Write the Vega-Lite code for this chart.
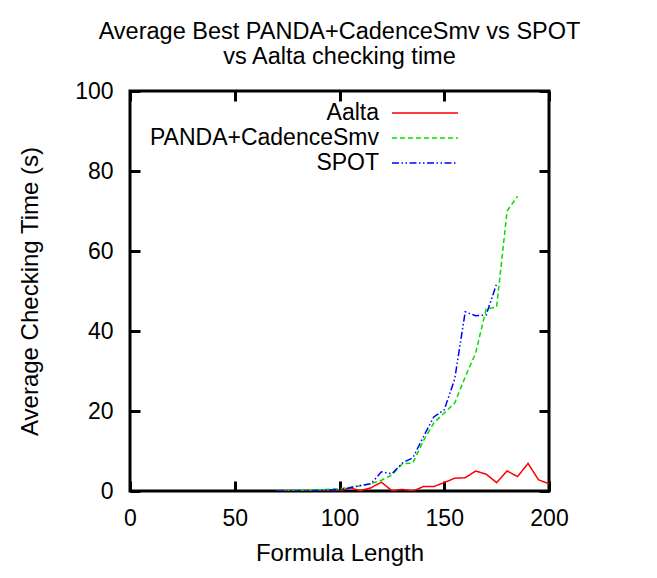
{
  "$schema": "https://vega.github.io/schema/vega-lite/v6.json",
  "autosize": {"type": "none"},
  "width": 419,
  "height": 400,
  "padding": {"left": 130, "top": 91, "right": 108, "bottom": 87},
  "background": "white",
  "title": {
    "text": ["Average Best PANDA+CadenceSmv vs SPOT", "vs Aalta checking time"],
    "font": "Liberation Sans",
    "fontSize": 23.5,
    "fontWeight": "normal",
    "lineHeight": 25,
    "anchor": "middle",
    "offset": 12,
    "color": "black"
  },
  "data": {
    "values": [
      {"len": 70, "time": 0, "tool": "Aalta"},
      {"len": 75, "time": 0, "tool": "Aalta"},
      {"len": 80, "time": 0, "tool": "Aalta"},
      {"len": 85, "time": 0, "tool": "Aalta"},
      {"len": 90, "time": 0, "tool": "Aalta"},
      {"len": 95, "time": 0, "tool": "Aalta"},
      {"len": 100, "time": 0, "tool": "Aalta"},
      {"len": 105, "time": 0.8, "tool": "Aalta"},
      {"len": 110, "time": 0.1, "tool": "Aalta"},
      {"len": 115, "time": 0.8, "tool": "Aalta"},
      {"len": 120, "time": 2.2, "tool": "Aalta"},
      {"len": 125, "time": 0.05, "tool": "Aalta"},
      {"len": 130, "time": 0.4, "tool": "Aalta"},
      {"len": 135, "time": 0, "tool": "Aalta"},
      {"len": 140, "time": 1.1, "tool": "Aalta"},
      {"len": 145, "time": 1.1, "tool": "Aalta"},
      {"len": 150, "time": 2.1, "tool": "Aalta"},
      {"len": 155, "time": 3.2, "tool": "Aalta"},
      {"len": 160, "time": 3.3, "tool": "Aalta"},
      {"len": 165, "time": 5.0, "tool": "Aalta"},
      {"len": 170, "time": 4.2, "tool": "Aalta"},
      {"len": 175, "time": 2.1, "tool": "Aalta"},
      {"len": 180, "time": 5.0, "tool": "Aalta"},
      {"len": 185, "time": 3.6, "tool": "Aalta"},
      {"len": 190, "time": 6.9, "tool": "Aalta"},
      {"len": 195, "time": 2.8, "tool": "Aalta"},
      {"len": 200, "time": 1.8, "tool": "Aalta"},
      {"len": 70, "time": 0, "tool": "PANDA+CadenceSmv"},
      {"len": 75, "time": 0.05, "tool": "PANDA+CadenceSmv"},
      {"len": 80, "time": 0.1, "tool": "PANDA+CadenceSmv"},
      {"len": 85, "time": 0.2, "tool": "PANDA+CadenceSmv"},
      {"len": 90, "time": 0.3, "tool": "PANDA+CadenceSmv"},
      {"len": 95, "time": 0.45, "tool": "PANDA+CadenceSmv"},
      {"len": 100, "time": 0.6, "tool": "PANDA+CadenceSmv"},
      {"len": 105, "time": 0.9, "tool": "PANDA+CadenceSmv"},
      {"len": 110, "time": 1.3, "tool": "PANDA+CadenceSmv"},
      {"len": 115, "time": 1.8, "tool": "PANDA+CadenceSmv"},
      {"len": 120, "time": 2.7, "tool": "PANDA+CadenceSmv"},
      {"len": 125, "time": 4.0, "tool": "PANDA+CadenceSmv"},
      {"len": 130, "time": 6.8, "tool": "PANDA+CadenceSmv"},
      {"len": 135, "time": 7.0, "tool": "PANDA+CadenceSmv"},
      {"len": 140, "time": 12.5, "tool": "PANDA+CadenceSmv"},
      {"len": 145, "time": 17.0, "tool": "PANDA+CadenceSmv"},
      {"len": 150, "time": 19.5, "tool": "PANDA+CadenceSmv"},
      {"len": 155, "time": 22.0, "tool": "PANDA+CadenceSmv"},
      {"len": 160, "time": 28.5, "tool": "PANDA+CadenceSmv"},
      {"len": 165, "time": 34.5, "tool": "PANDA+CadenceSmv"},
      {"len": 170, "time": 45.5, "tool": "PANDA+CadenceSmv"},
      {"len": 175, "time": 46.0, "tool": "PANDA+CadenceSmv"},
      {"len": 180, "time": 70.0, "tool": "PANDA+CadenceSmv"},
      {"len": 185, "time": 73.7, "tool": "PANDA+CadenceSmv"},
      {"len": 70, "time": 0, "tool": "SPOT"},
      {"len": 75, "time": 0, "tool": "SPOT"},
      {"len": 80, "time": 0, "tool": "SPOT"},
      {"len": 85, "time": 0.05, "tool": "SPOT"},
      {"len": 90, "time": 0.15, "tool": "SPOT"},
      {"len": 95, "time": 0.25, "tool": "SPOT"},
      {"len": 100, "time": 0.3, "tool": "SPOT"},
      {"len": 105, "time": 0.8, "tool": "SPOT"},
      {"len": 110, "time": 1.4, "tool": "SPOT"},
      {"len": 115, "time": 1.8, "tool": "SPOT"},
      {"len": 120, "time": 4.8, "tool": "SPOT"},
      {"len": 125, "time": 4.3, "tool": "SPOT"},
      {"len": 130, "time": 7.0, "tool": "SPOT"},
      {"len": 135, "time": 8.3, "tool": "SPOT"},
      {"len": 140, "time": 13.5, "tool": "SPOT"},
      {"len": 145, "time": 18.5, "tool": "SPOT"},
      {"len": 150, "time": 20.3, "tool": "SPOT"},
      {"len": 155, "time": 28.0, "tool": "SPOT"},
      {"len": 160, "time": 44.8, "tool": "SPOT"},
      {"len": 165, "time": 43.8, "tool": "SPOT"},
      {"len": 170, "time": 44.0, "tool": "SPOT"},
      {"len": 175, "time": 51.8, "tool": "SPOT"}
    ]
  },
  "layer": [
    {
      "mark": {"type": "line", "strokeWidth": 1.5, "clip": true},
      "encoding": {
        "x": {
          "field": "len", "type": "quantitative",
          "scale": {"domain": [0, 200], "nice": false},
          "axis": {
            "orient": "bottom", "title": "Formula Length",
            "values": [0, 50, 100, 150, 200],
            "grid": false, "domain": false,
            "tickSize": -10, "tickWidth": 3, "tickColor": "black",
            "labelPadding": 26, "labelFontSize": 23, "labelFont": "Liberation Sans", "labelColor": "black",
            "titleFontSize": 24, "titleFont": "Liberation Sans", "titleFontWeight": "normal", "titleColor": "black",
            "titlePadding": 11, "labelFlush": false
          }
        },
        "y": {
          "field": "time", "type": "quantitative",
          "scale": {"domain": [0, 100], "nice": false},
          "axis": {
            "orient": "left", "title": "Average Checking Time (s)",
            "values": [0, 20, 40, 60, 80, 100],
            "grid": false, "domain": false,
            "tickSize": -10, "tickWidth": 3, "tickColor": "black",
            "labelPadding": 27, "labelFontSize": 23, "labelFont": "Liberation Sans", "labelColor": "black",
            "titleFontSize": 24, "titleFont": "Liberation Sans", "titleFontWeight": "normal", "titleColor": "black",
            "titlePadding": 32, "labelFlush": false
          }
        },
        "color": {
          "field": "tool", "type": "nominal",
          "scale": {"domain": ["Aalta", "PANDA+CadenceSmv", "SPOT"], "range": ["#ff0000", "#00e000", "#0000ff"]},
          "legend": {
            "title": null, "orient": "none", "legendX": 283, "legendY": 10,
            "symbolType": "M-3,0H3", "symbolSize": 484, "symbolStrokeWidth": 1.5, "symbolFillColor": "transparent",
            "labelAlign": "right", "labelOffset": -58,
            "labelFontSize": 23, "labelFont": "Liberation Sans", "labelColor": "black",
            "rowPadding": 1, "padding": 0, "labelLimit": 400
          }
        },
        "strokeDash": {
          "field": "tool", "type": "nominal",
          "scale": {"domain": ["Aalta", "PANDA+CadenceSmv", "SPOT"], "range": [[1, 0], [5, 3], [7, 2.5, 1.5, 2.5, 1.5, 2.5]]},
          "legend": {
            "title": null, "orient": "none", "legendX": 283, "legendY": 10,
            "symbolType": "M-3,0H3", "symbolSize": 484, "symbolStrokeWidth": 1.5, "symbolFillColor": "transparent",
            "labelAlign": "right", "labelOffset": -58,
            "labelFontSize": 23, "labelFont": "Liberation Sans", "labelColor": "black",
            "rowPadding": 1, "padding": 0, "labelLimit": 400
          }
        }
      }
    },
    {
      "mark": {"type": "line", "strokeOpacity": 0},
      "encoding": {
        "x": {
          "field": "len", "type": "quantitative",
          "axis": {
            "orient": "top", "title": null, "labels": false,
            "values": [0, 50, 100, 150, 200],
            "grid": false, "domain": false,
            "tickSize": -10, "tickWidth": 3, "tickColor": "black"
          }
        },
        "y": {
          "field": "time", "type": "quantitative",
          "axis": {
            "orient": "right", "title": null, "labels": false,
            "values": [0, 20, 40, 60, 80, 100],
            "grid": false, "domain": false,
            "tickSize": -10, "tickWidth": 3, "tickColor": "black"
          }
        },
        "detail": {"field": "tool", "type": "nominal"}
      }
    }
  ],
  "resolve": {"axis": {"x": "independent", "y": "independent"}},
  "config": {
    "view": {"stroke": "black", "strokeWidth": 3},
    "font": "Liberation Sans"
  }
}
